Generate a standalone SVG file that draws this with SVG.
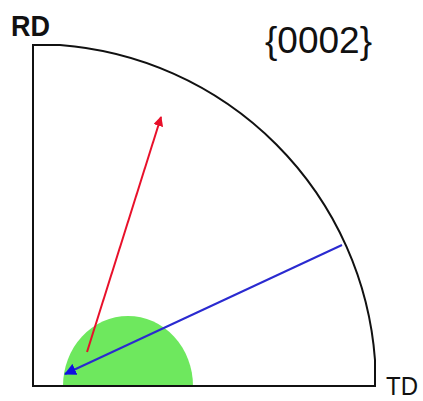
<svg xmlns="http://www.w3.org/2000/svg" width="423" height="401" viewBox="0 0 423 401">
<style>
.lbl{font-family:"Liberation Sans",Arial,sans-serif;fill:#111}
.ax{fill:none;stroke:#111;stroke-width:2}
</style>
<defs>
<marker id="ar" markerWidth="10" markerHeight="10" refX="9" refY="5" orient="auto" markerUnits="userSpaceOnUse"><path d="M0,0 L10,5 L0,10 z" fill="#e8102a"/></marker>
<marker id="ab" markerWidth="12" markerHeight="12" refX="11" refY="6" orient="auto" markerUnits="userSpaceOnUse"><path d="M0,0 L12,6 L0,12 z" fill="#1010e0"/></marker>
</defs>
<rect width="423" height="401" fill="#fff"/>
<g id="green-region"><ellipse cx="128" cy="386" rx="65" ry="70" fill="#6ee85e"/><rect x="60" y="386" width="140" height="15" fill="#fff"/></g>
<g id="frame"><path class="ax" d="M33,386 L33,45 L60,45 A342,341 0 0 1 375,360 L375,386 Z"/></g>
<g id="labels">
<text class="lbl" x="11" y="36" font-size="29" font-weight="bold" textLength="39" lengthAdjust="spacingAndGlyphs">RD</text>
<text class="lbl" x="265" y="53" font-size="37">{0002}</text>
<text class="lbl" x="386" y="395" font-size="26" textLength="32" lengthAdjust="spacingAndGlyphs">TD</text>
</g>
<g id="connectors">
<line x1="87" y1="352" x2="161" y2="117" stroke="#e8102a" stroke-width="2" marker-end="url(#ar)"/>
<line x1="342" y1="245" x2="65" y2="374" stroke="#2a2ad0" stroke-width="2" marker-end="url(#ab)"/>
</g>
</svg>
